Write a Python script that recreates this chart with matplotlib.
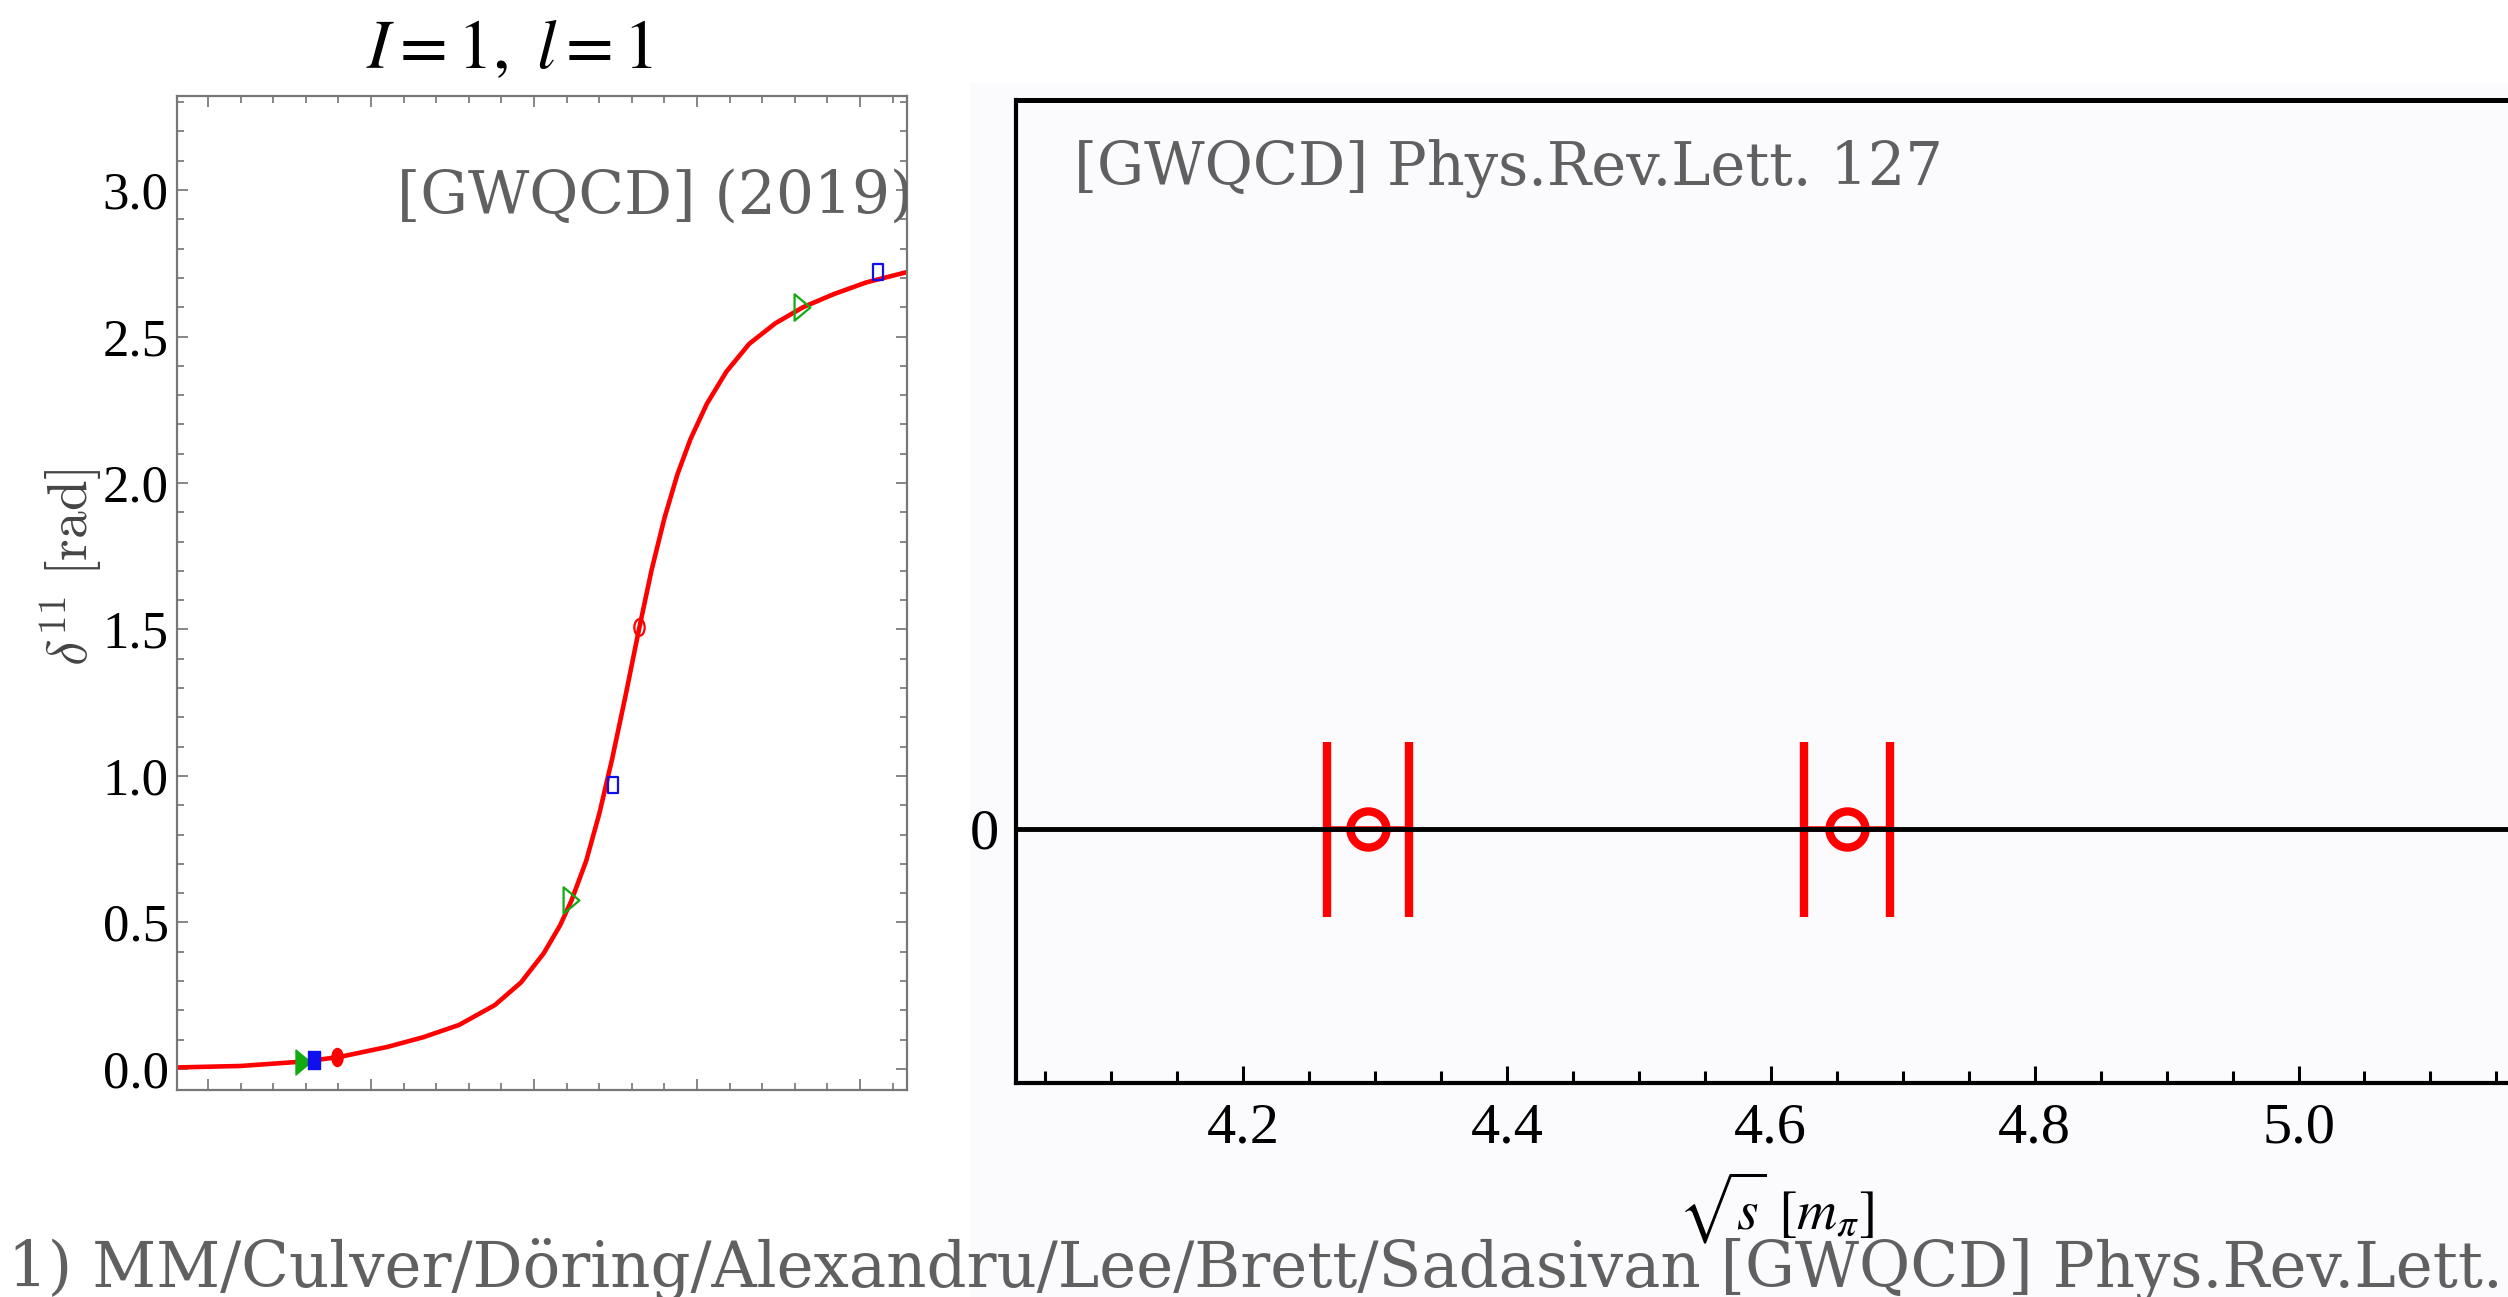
import matplotlib
matplotlib.use("Agg")
import matplotlib.pyplot as plt
from matplotlib.patches import Rectangle
from matplotlib.path import Path
from matplotlib.transforms import Affine2D
from matplotlib.ticker import MultipleLocator, NullFormatter

# left panel: phase shift curve (arbitrary x units)
curve_x = [1.905, 2.10, 2.29, 2.40, 2.55, 2.66, 2.77, 2.88, 2.96, 3.03, 3.08, 3.115, 3.16,
           3.20, 3.24, 3.28, 3.32, 3.36, 3.40, 3.44, 3.48, 3.53, 3.59, 3.66, 3.74, 3.825,
           3.92, 4.02, 4.144]
curve_y = [0.005, 0.010, 0.025, 0.040, 0.075, 0.108, 0.150, 0.218, 0.295, 0.395, 0.490, 0.575,
           0.710, 0.870, 1.060, 1.270, 1.490, 1.700, 1.880, 2.030, 2.150, 2.270, 2.380, 2.475,
           2.545, 2.600, 2.645, 2.685, 2.720]

tri_filled = (2.290, 0.025)
sq_filled = (2.325, 0.031)
circ_filled = (2.395, 0.040)
tri_open_x = [3.113, 3.822]
tri_open_y = [0.575, 2.600]
sq_open_x = [3.243, 4.056]
sq_open_y = [0.970, 2.721]
circ_open = (3.321, 1.510)

# right panel: energy levels with horizontal errors
levels_x = [4.2949, 4.6576]
levels_y = [0.0, 0.0]
levels_err = [0.031, 0.0326]
right_ticks = [4.2, 4.4, 4.6, 4.8, 5.0]

W, H = 2508, 1297
fig = plt.figure(figsize=(W / 100, H / 100), dpi=100)
fig.patch.set_facecolor('white')
plt.rcParams['font.family'] = ['Liberation Serif', 'DejaVu Serif']

tint = '#fbfafd'
fig.patches.append(Rectangle((970 / W, 0), 1 - 970 / W, 1 - 83 / H, transform=fig.transFigure,
                             facecolor=tint, edgecolor='none', zorder=-5))

# condensed marker shapes (the left panel is squeezed horizontally)
tri_marker = Path([(-0.6, -1), (0.6, 0), (-0.6, 1), (-0.6, -1)], closed=True)
sq_marker = Path([(-0.65, -1), (0.65, -1), (0.65, 1), (-0.65, 1), (-0.65, -1)], closed=True)
ell_marker = Path.unit_circle().transformed(Affine2D().scale(0.62, 1.0))

# ---- left panel
ax1 = fig.add_axes([177 / W, 1 - 1090 / H, (907 - 177) / W, (1090 - 96) / H])
ax1.plot(curve_x, curve_y, color='red', lw=3.3, zorder=2, solid_capstyle='round')
ax1.plot(*tri_filled, marker=tri_marker, ms=18, color='#11aa11', mec='#11aa11', ls='none', zorder=3)
ax1.plot(*sq_filled, marker=sq_marker, ms=13, color='#1010ee', mec='#1010ee', ls='none', zorder=3)
ax1.plot(*circ_filled, marker=ell_marker, ms=13, color='red', mec='red', ls='none', zorder=3)
ax1.plot(tri_open_x, tri_open_y, marker=tri_marker, ms=19, mfc='none', mec='#11aa11', mew=1.6,
         ls='none', zorder=3)
ax1.plot(sq_open_x, sq_open_y, marker=sq_marker, ms=12, mfc='none', mec='#1010ee', mew=1.6,
         ls='none', zorder=3)
ax1.plot(*circ_open, marker=ell_marker, ms=12, mfc='none', mec='red', mew=1.6, ls='none', zorder=3)

ax1.set_xlim(1.905, 4.144)
ax1.set_ylim(-0.072, 3.321)
ax1.xaxis.set_major_locator(MultipleLocator(0.5))
ax1.xaxis.set_minor_locator(MultipleLocator(0.1))
ax1.xaxis.set_major_formatter(NullFormatter())
ax1.yaxis.set_major_locator(MultipleLocator(0.5))
ax1.yaxis.set_minor_locator(MultipleLocator(0.1))
ax1.yaxis.set_major_formatter(plt.FuncFormatter(lambda v, p: '%.1f' % v))
ax1.tick_params(which='both', direction='in', top=True, right=True, color='#666666', width=1.1)
ax1.tick_params(which='major', length=8, labelsize=38, pad=6)
ax1.tick_params(which='minor', length=5)
for s in ax1.spines.values():
    s.set_color('#777777')
    s.set_linewidth(1.6)

ax1.text(0.302, 0.882, '[GWQCD] (2019)', transform=ax1.transAxes, family='DejaVu Serif',
         fontsize=43, color='#606060', ha='left', va='baseline', clip_on=True)

fig.text(509 / W, 1 - 68 / H, r'$I = 1,\ l = 1$', fontsize=50, ha='center', va='baseline',
         math_fontfamily='stix')
fig.text(72 / W, 1 - 568 / H, r'$\delta^{11}\ [\mathrm{rad}]$', fontsize=40, rotation=90,
         ha='center', va='center', color='#444444', math_fontfamily='cm')

# ---- right panel
ax2 = fig.add_axes([1016 / W, 1 - 1083 / H, (2536 - 1016) / W, (1083 - 100) / H])
ax2.set_facecolor(tint)
ax2.errorbar(levels_x, levels_y, xerr=levels_err, fmt='o', color='red', ms=26, mfc='none',
             mec='red', mew=6, elinewidth=4, capsize=63, capthick=7, zorder=2)
ax2.axhline(0, color='black', lw=3.5, zorder=3)
ax2.set_xlim(4.028, 5.18)
ax2.set_ylim(-1.0, 2.87)
ax2.set_xticks(right_ticks)
ax2.set_xticklabels(['%.1f' % t for t in right_ticks])
ax2.xaxis.set_minor_locator(MultipleLocator(0.05))
ax2.set_yticks([0])
ax2.set_yticklabels(['0'])
ax2.tick_params(axis='x', which='both', direction='in', color='black', width=2.2)
ax2.tick_params(axis='x', which='major', length=12, labelsize=42, pad=14)
ax2.tick_params(axis='x', which='minor', length=8.5)
ax2.tick_params(axis='y', length=0, labelsize=42, pad=12)
for side in ['left', 'bottom', 'top']:
    ax2.spines[side].set_linewidth(3)
    ax2.spines[side].set_color('black')
ax2.spines['top'].set_linewidth(3.6)
ax2.spines['right'].set_visible(False)

ax2.text(0.038, 0.960, '[GWQCD] Phys.Rev.Lett. 127', transform=ax2.transAxes,
         family='DejaVu Serif', fontsize=42.5, color='#606060', ha='left', va='top')

fig.text(1776 / W, 1 - 1208 / H, r'$\sqrt{s}\ [m_\pi]$', fontsize=40, ha='center', va='center',
         math_fontfamily='stix')

fig.text(8 / W, 1 - 1287 / H, '1) MM/Culver/Döring/Alexandru/Lee/Brett/Sadasivan [GWQCD] Phys.Rev.Lett.',
         family='DejaVu Serif', fontsize=45, color='#606060', ha='left', va='baseline', zorder=10)

fig.savefig('out.png', dpi=100, facecolor='white')
